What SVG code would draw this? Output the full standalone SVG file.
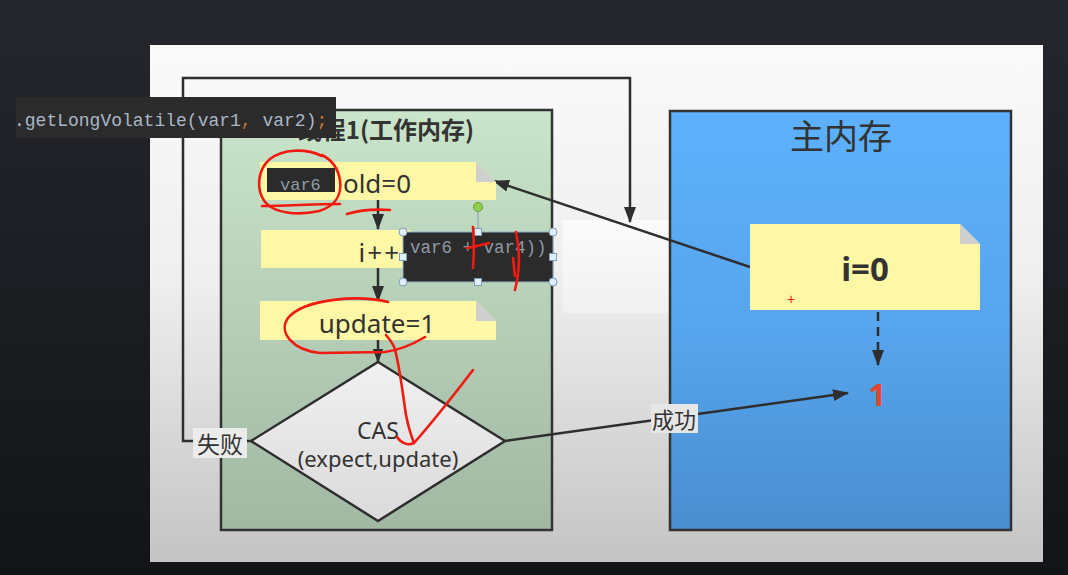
<svg xmlns="http://www.w3.org/2000/svg" width="1068" height="575" viewBox="0 0 1068 575">
  <defs>
    <linearGradient id="bg" x1="0" y1="0" x2="0" y2="1">
      <stop offset="0" stop-color="#26272d"/>
      <stop offset="1" stop-color="#131418"/>
    </linearGradient>
    <linearGradient id="slide" x1="0" y1="0" x2="0" y2="1">
      <stop offset="0" stop-color="#fafafa"/>
      <stop offset="0.45" stop-color="#efefef"/>
      <stop offset="1" stop-color="#c4c4c4"/>
    </linearGradient>
    <linearGradient id="green" x1="0" y1="0" x2="0" y2="1">
      <stop offset="0" stop-color="#cae5ca"/>
      <stop offset="1" stop-color="#a1b8a3"/>
    </linearGradient>
    <linearGradient id="blue" x1="0" y1="0" x2="0" y2="1">
      <stop offset="0" stop-color="#5db1fb"/>
      <stop offset="0.5" stop-color="#57a6ee"/>
      <stop offset="1" stop-color="#4a8ecf"/>
    </linearGradient>
    <linearGradient id="dia" x1="0" y1="0" x2="0" y2="1">
      <stop offset="0" stop-color="#f1f1f1"/>
      <stop offset="1" stop-color="#dadada"/>
    </linearGradient>
    <linearGradient id="white" x1="0" y1="0" x2="0" y2="1">
      <stop offset="0" stop-color="#fbfbfb"/>
      <stop offset="1" stop-color="#f1f1f1"/>
    </linearGradient>
    <marker id="arr" viewBox="0 0 16 12" refX="15" refY="6" markerWidth="16" markerHeight="12" markerUnits="userSpaceOnUse" orient="auto">
      <path d="M0,0 L16,6 L0,12 Z" fill="#2e2e2e"/>
    </marker>
    <marker id="arrs" viewBox="0 0 16 12" refX="15" refY="6" markerWidth="14" markerHeight="11" markerUnits="userSpaceOnUse" orient="auto">
      <path d="M0,0 L16,6 L0,12 Z" fill="#2e2e2e"/>
    </marker>
  </defs>
  <style>
    .panel { stroke: #333; stroke-width: 2.5; }
    .note { fill: #fef7a6; }
    .fold { fill: #cfcfcf; }
    .txt { font-family: "Noto Sans", "Noto Sans CJK SC", sans-serif; fill: #333; }
    .cjk { font-family: "Noto Sans CJK SC", "Noto Sans", sans-serif; fill: #333; }
    .conn { stroke: #2e2e2e; stroke-width: 2.5; fill: none; }
    .code { font-family: "Liberation Mono", "DejaVu Sans Mono", monospace; }
    .red { stroke: #f01a10; stroke-width: 2.6; fill: none; stroke-linecap: round; stroke-linejoin: round; }
    .hnd { fill: #dfeefa; stroke: #7f9fb8; stroke-width: 1; }
  </style>

  <rect x="0" y="0" width="1068" height="575" fill="url(#bg)"/>
  <rect id="slide" x="150" y="45" width="893" height="517" fill="url(#slide)"/>
  <rect x="563" y="220" width="106" height="93" fill="url(#white)"/>

  <g id="thread-panel">
    <rect class="panel" x="221" y="110" width="331" height="420" fill="url(#green)"/>
    <text class="cjk" x="386" y="139" font-size="24" font-weight="bold" text-anchor="middle">线程1(工作内存)</text>
  </g>

  <g id="main-panel">
    <rect class="panel" x="670" y="111" width="341" height="419" fill="url(#blue)"/>
    <text class="cjk" x="841" y="149" font-size="34" text-anchor="middle">主内存</text>
  </g>

  <g id="connectors">
    <line class="conn" x1="378" y1="200" x2="378" y2="229" marker-end="url(#arr)"/>
    <line class="conn" x1="378" y1="268" x2="378" y2="301" marker-end="url(#arr)"/>
    <line class="conn" x1="378" y1="340" x2="378" y2="362" marker-end="url(#arrs)"/>
    <polyline class="conn" points="251,441 183,441 183,78 630,78 630,222" marker-end="url(#arr)"/>
    <line class="conn" x1="505" y1="441" x2="848" y2="393" marker-end="url(#arr)"/>
    <line class="conn" x1="750" y1="267" x2="494" y2="181" marker-end="url(#arr)"/>
    <line class="conn" x1="878" y1="297" x2="878" y2="365" stroke-dasharray="9,6" marker-end="url(#arr)"/>
    <g id="label-fail">
      <rect x="193" y="428" width="54" height="30" fill="#ececec"/>
      <text class="cjk" x="220" y="453" font-size="23" text-anchor="middle">失败</text>
    </g>
    <g id="label-success">
      <rect x="651" y="404" width="47" height="29" fill="#e6e6e6"/>
      <text class="cjk" x="674" y="428" font-size="22" text-anchor="middle">成功</text>
    </g>
  </g>

  <g id="note-old">
    <path class="note" d="M260,162 H476 L496,182 V200 H260 Z"/>
    <path class="fold" d="M476,162 V182 H496 Z"/>
    <text class="txt" x="377" y="193" font-size="26" text-anchor="middle">old=0</text>
  </g>

  <g id="note-inc">
    <rect class="note" x="261" y="230" width="150" height="38"/>
    <text class="txt" x="401" y="262" font-size="26" letter-spacing="2" text-anchor="end">i++</text>
  </g>

  <g id="note-update">
    <path class="note" d="M260,301 H476 L496,321 V340 H260 Z"/>
    <path class="fold" d="M476,301 V321 H496 Z"/>
    <text class="txt" x="377" y="333" font-size="26" text-anchor="middle">update=1</text>
  </g>

  <g id="cas">
    <polygon points="378,362 505,441 378,521 251,441" fill="url(#dia)" stroke="#2e2e2e" stroke-width="2.5"/>
    <text class="txt" x="378" y="439" font-size="23" text-anchor="middle">CAS</text>
    <text class="txt" x="378" y="467" font-size="22" text-anchor="middle">(expect,update)</text>
  </g>

  <g id="note-i0">
    <path class="note" d="M750,224 H960 L980,244 V310 H750 Z"/>
    <path class="fold" d="M960,224 V244 H980 Z"/>
    <text class="txt" x="865" y="281" font-size="33" font-weight="bold" text-anchor="middle">i=0</text>
    <text x="791" y="304" font-family="Liberation Sans, sans-serif" font-size="14" fill="#f01a10" text-anchor="middle">+</text>
  </g>

  <g id="value-1">
    <text x="877" y="406" font-family="Noto Sans, sans-serif" font-size="31" font-weight="bold" fill="#e5452a" text-anchor="middle">1</text>
  </g>

  <g id="code-overlay">
    <rect x="16" y="97" width="320" height="41" fill="#2b2b2b"/>
    <text class="code" x="14" y="126" font-size="18" fill="#a9b7c6">.getLongVolatile(var1<tspan fill="#cc7832">,</tspan> var2)<tspan fill="#cc7832">;</tspan></text>
  </g>

  <g id="var6-overlay">
    <rect x="267" y="168" width="68" height="24" fill="#2b2b2b"/>
    <text class="code" x="280" y="190" font-size="17" fill="#8f9aa6">var6</text>
  </g>

  <g id="selection-box">
    <rect x="403" y="232" width="150" height="50" fill="#2b2b2b" stroke="#8fb0c8" stroke-width="1"/>
    <text class="code" x="410" y="253" font-size="17.5" fill="#8f9aa6">var6 + var4))</text>
    <line x1="478" y1="211" x2="478" y2="229" stroke="#8fa5b5" stroke-width="1.2"/>
    <circle cx="478" cy="207" r="4.5" fill="#8fd14f" stroke="#6a9a3a" stroke-width="1"/>
    <circle class="hnd" cx="403" cy="232" r="4"/>
    <circle class="hnd" cx="553" cy="232" r="4"/>
    <circle class="hnd" cx="403" cy="282" r="4"/>
    <circle class="hnd" cx="553" cy="282" r="4"/>
    <rect class="hnd" x="474.5" y="228.5" width="7" height="7"/>
    <rect class="hnd" x="474.5" y="278.5" width="7" height="7"/>
    <rect class="hnd" x="399.5" y="253.5" width="7" height="7"/>
    <rect class="hnd" x="549.5" y="253.5" width="7" height="7"/>
  </g>

  <g id="annotations">
    <path class="red" d="M322,156 C305,148 283,149 270,159 C257,170 256,190 265,202 C274,213 297,216 319,211 C336,206 342,194 340,180 C338,168 332,160 322,155"/>
    <path class="red" d="M262,206 C285,206 315,204 340,204"/>
    <path class="red" d="M347,214 C360,210 375,209 390,210"/>
    <path class="red" d="M473,227 C474,240 474,255 473,268"/>
    <path class="red" d="M467,248 C474,247 481,245 489,243"/>
    <path class="red" d="M516,232 C520,250 520,270 515,290"/>
    <path class="red" stroke-width="4" d="M513,258 L515,276"/>
    <path class="red" d="M388,302 C360,295 305,298 288,318 C278,332 292,350 320,353 L385,352 C400,350 415,343 425,337"/>
    <path class="red" d="M386,335 C392,342 396,348 396,354 C400,370 403,395 406,415 C409,430 412,438 414,443 C408,446 401,443 397,437 M414,443 C430,425 450,400 473,370"/>
  </g>
</svg>
